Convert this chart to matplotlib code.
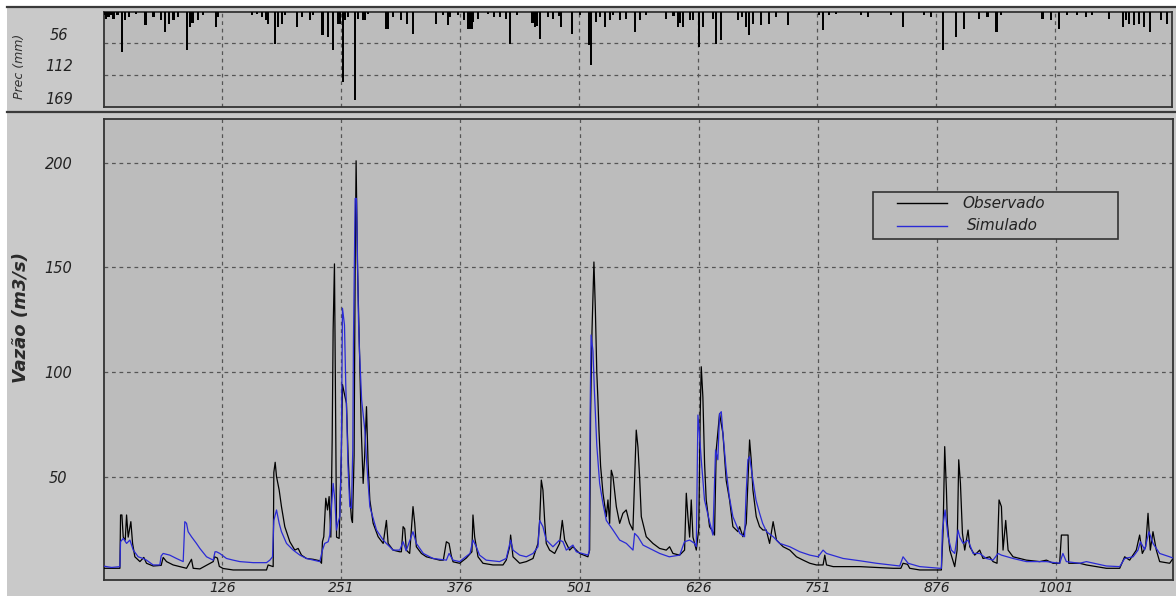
import matplotlib
matplotlib.use("Agg")
import matplotlib.pyplot as plt
from matplotlib.lines import Line2D
from matplotlib.patches import Rectangle
from matplotlib.transforms import blended_transform_factory, ScaledTranslation

# ---------------- data ----------------
# observed discharge (m3/s): day, value
obs_day = [1, 18.7, 19.4, 20.8, 22.2, 24.3, 25.7, 27.4, 30.2, 32, 34.4, 39.7, 43.8, 46.6, 53.6, 62,
           64.1, 67.6, 74.6, 88.6, 93.8, 95.6, 102.6, 116.6, 118, 121, 123, 127, 137.5, 172.5, 174.2,
           179.5, 180.2, 181.6, 183, 185.8, 188.2, 191.7, 197, 202.2, 205.7, 209.2, 214.4, 221.4,
           228.4, 230.2, 231.2, 232.6, 234.7, 236.5, 238.2, 240, 241.4, 242.4, 243.8, 244.9, 246,
           248.7, 251, 252.2, 254, 256.4, 258.1, 260, 261.6, 262.7, 264.4, 265.5, 266.5, 267.9, 270,
           271.4, 272.1, 273.9, 275.5, 277.4, 279.1, 280.9, 284.4, 289.6, 294.9, 298.3, 300.1, 305.3,
           312.3, 314, 315.8, 317.5, 319.2, 322.7, 326.2, 328, 329.7, 335, 340.2, 347.2, 354.2, 358,
           361.2, 364, 366.4, 368.2, 375.1, 382.1, 388, 389.1, 390.9, 394.4, 399.6, 410.1, 420.6, 424,
           427.6, 428.6, 431.1, 438.1, 445.1, 452.1, 457.3, 459.1, 460.8, 462.5, 464.3, 466, 469.5,
           474.8, 480, 482.8, 485.3, 490.5, 494, 501, 509.7, 511.5, 512.5, 514, 516, 517.5, 519,
           520.2, 521.3, 523, 525.5, 529, 530.7, 532.5, 534.2, 536, 539.5, 543, 546.4, 549.9, 553.4,
           556.9, 560.4, 562.2, 563.9, 565.7, 570.9, 574.4, 577.9, 584.9, 591.9, 595.4, 598.9, 605.9,
           611.1, 612.9, 614.6, 616.4, 618.1, 619.9, 621.6, 623.4, 626, 627.5, 628.6, 630.3, 632.1,
           633.8, 637.3, 640.8, 642.5, 644.3, 647.8, 651.3, 654.8, 658.3, 661.8, 667.1, 668.8, 672.3,
           675.8, 679.3, 681, 682.8, 686.3, 689.8, 693.3, 696.8, 700.3, 704, 707.5, 714.5, 721.5,
           728.5, 735.5, 742.5, 749.4, 756.4, 758.2, 760, 767, 794.9, 829.9, 838, 840.3, 845, 847.3,
           857.8, 880.5, 882.3, 884, 885.8, 886.8, 889.3, 894.5, 897, 898.7, 900.5, 902.6, 905, 908.5,
           910.3, 915.5, 920.7, 924.2, 931.2, 934.7, 938.9, 941, 943.5, 945.2, 948, 950.5, 955.7,
           969.7, 983.7, 990.7, 997.7, 1004.6, 1006.4, 1013.4, 1014.1, 1025.6, 1032.6, 1053.6, 1067.6,
           1072.8, 1078, 1085, 1088.5, 1091.3, 1094.8, 1097.3, 1099.7, 1102.5, 1106, 1109.5, 1120,
           1123.5]
obs_q = [6.1, 6.1, 31.6, 31.6, 21, 19.6, 31.6, 21, 28.4, 18, 11.6, 9.3, 11.3, 8.5, 7.2, 7.5,
         11.3, 9.3, 7.7, 6.1, 10.4, 6.1, 5.8, 9.3, 11.6, 11, 7, 6, 5.3, 5.3, 7.7,
         6.9, 52, 56.8, 50, 43.5, 35.6, 26, 18.8, 14.8, 15.6, 12.4, 10.8, 10.4,
         9.7, 8.5, 18.8, 21.2, 39.6, 34, 40.4, 21, 67.5, 120, 151.7, 85.8, 21,
         20.4, 60, 94, 90, 85, 60, 40, 30, 28, 60, 150, 201, 152, 112,
         85, 70, 46.7, 60, 83.4, 56, 38.8, 27.6, 21.2, 18, 29, 18, 14.8,
         14, 14, 26, 25, 14.8, 13.2, 35.6, 27.6, 16.4, 13.2, 11.6, 10.8, 10, 10,
         18.8, 18, 12, 9.2, 8.5, 11, 14, 31.6, 21, 11.6, 8.5, 7.7, 7.7, 10,
         16.4, 22, 11.6, 8.5, 9.3, 10.8, 18, 29, 48.3, 43.5, 29, 18, 14.8,
         13.2, 18, 29, 19.6, 14.8, 16.4, 13.2, 11.6, 14.8, 80, 120, 152.6, 130, 100,
         86.6, 72, 55, 42, 30.8, 38.8, 27.6, 53, 50, 35.6, 27.6, 32.4, 34, 27.6,
         24.4, 72.2, 64, 50, 30.8, 21.2, 19.6, 18, 15.6, 14.8, 16.4, 13.2, 12.4,
         14.8, 42, 30.8, 21, 38.8, 21, 18, 14.8, 25, 80, 102.5, 88, 56,
         38.8, 26, 23.6, 22, 62.7, 80, 70.7, 48, 38.8, 26, 23.6, 26, 21.2,
         27.6, 67.5, 58, 43.5, 30.8, 26, 24.4, 24.4, 18, 28.4, 19.6, 16.4, 14.8,
         11.6, 10, 8.5, 7.7, 7.7, 12.4, 7.7, 6.9, 6.9, 6.1, 6.1, 8.5, 8, 6.1,
         5.3, 5.3, 24, 64.3, 43.5, 27.6, 14.8, 6.9, 14.8, 58, 46.7, 22.8, 14.8, 24.4,
         16.4, 12.4, 14.8, 10.8, 11.6, 9.3, 8.5, 38.8, 35.6, 14.8, 29, 14.8, 11.6,
         10, 9.3, 10, 8.5, 8.5, 22, 22, 8.5, 8.5, 7.7, 6.1, 6.1,
         11.6, 10, 14.8, 22, 13.2, 16.4, 32.4, 14.8, 23.6, 14.8, 9.3, 8.5,
         10.8]

# simulated discharge (m3/s): day, value
sim_day = [1, 10, 18.7, 19.4, 22.2, 25.7, 29.2, 32.7, 37.9, 43, 46.6, 53.6, 60.6, 62, 64.1, 71,
           78, 85.1, 86, 86.8, 88.6, 90.3, 93.8, 99, 102.6, 109.6, 116.6, 118.5, 120, 123.5, 130.5,
           137.5, 144.5, 158.5, 172.5, 176, 178.8, 180.2, 183, 185.8, 188.2, 193.5, 200.5, 207.5,
           214.4, 228.4, 231.2, 233.6, 237.2, 238.9, 240.7, 242.4, 244.2, 245.9, 247.6, 249.4, 251,
           252.2, 254.3, 255.7, 256.7, 258, 259.9, 261.6, 263, 263.7, 265.5, 266.9, 268, 269, 270,
           272.3, 275.7, 277.4, 280.9, 287.9, 294.9, 298.2, 301.8, 305.2, 312.3, 315.8, 319, 326.2,
           329.7, 337, 347.2, 361.2, 364, 368.2, 375.1, 386, 389.1, 392.6, 396, 403, 417, 424,
           428.6, 431.1, 438.1, 445.1, 452.1, 457.3, 459.1, 462.5, 466, 473, 480, 483.5, 487, 494,
           497.5, 509.7, 511, 512, 513, 515, 516.5, 519, 522, 525.5, 529, 536, 543, 550, 557, 558.7,
           562.2, 567.5, 574.4, 585, 595, 606, 611, 616.4, 621.6, 623.4, 624.5, 625.1, 626.9, 628.6,
           632, 637, 640.8, 643.6, 646, 647.8, 649.6, 651.3, 654.8, 658, 661.8, 669, 674, 675.5,
           677.5, 679.3, 682.8, 686, 689.8, 693, 697.1, 704, 711, 721.5, 732, 742.5, 751.2, 756.4,
           760, 777.4, 794.9, 812.4, 836.8, 840.3, 845.6, 857.8, 878.8, 880.5, 881.6, 884.4, 887.5,
           891, 894.5, 898, 899.8, 903.3, 908.5, 913.8, 920.7, 927.7, 934.7, 940, 943.5, 955.7,
           969.7, 990.7, 1004.6, 1008, 1011.6, 1025.6, 1032.6, 1053.6, 1067.6, 1072.8, 1081.6,
           1086.8, 1089.3, 1093.8, 1098.3, 1102.5, 1109.5, 1120, 1123.5]
sim_q = [7.2, 6.5, 6.9, 18.8, 20.4, 18, 19.6, 14.8, 11.6, 10.8, 10, 7.7, 7.7, 12, 13.2, 12.4,
         10.8, 9.3, 20, 28.4, 27.6, 23.6, 21.2, 18, 15.6, 11.6, 10, 14, 14, 13.2, 10.8,
         10, 9.3, 8.8, 8.8, 10, 11.6, 29, 34, 27.6, 23.6, 18, 14.8, 12.4,
         10.8, 9.3, 14.8, 18, 18.8, 22, 35.6, 46.7, 38.8, 24.4, 28, 30.8, 60,
         130.5, 122.5, 93, 78.6, 55, 35.6, 34.8, 62.7, 113.7, 183, 183, 152, 125, 110.5,
         86.6, 72, 58, 35.6, 24.4, 19.6, 18, 16.4, 14.8, 14.8, 18.8, 14.5, 23.6,
         18, 13.2, 10.8, 10, 13.2, 10, 9.3, 13.2, 19.6, 16.4, 12.4, 10, 9.3, 10.8,
         19.6, 14.8, 12.4, 11.6, 13.2, 16.4, 29, 26, 19.6, 16.4, 19.6, 18.8, 14.8, 17.2,
         14, 12.4, 14, 80, 117.7, 110, 91, 65, 46.7, 37, 29, 24.4, 19.6, 18, 14.8, 22.8,
         21.2, 17.2, 15.6, 13.2, 11.6, 12.4, 18.8, 19.6, 18, 16.4, 60, 79.4, 69, 58,
         38.8, 29, 22, 62.7, 58, 80, 81, 70.7, 53, 40.4, 30.8, 22.8, 21.2, 40,
         58, 59.5, 48.3, 38.8, 32.4, 27.6, 23.6, 21.2, 18, 16.4, 14, 12.4, 11.6, 14.8,
         13.2, 10.8, 9.7, 8.5, 7.2, 11.6, 8.5, 6.9, 6.1, 6.1, 24.4, 34, 21.2,
         14.8, 13.2, 24.4, 21, 18, 19.6, 13.2, 13.2, 10.8, 10, 13.2, 12.4, 10.8,
         9.3, 9.3, 8.5, 13.2, 9.3, 8.5, 9.3, 7.2, 6.9, 10.8, 11.6,
         14.8, 18.8, 15, 23.6, 18, 13.2, 11.6, 11]

# daily rainfall (mm): day, value
prec_day = [2, 4.3, 6.8, 9.6, 12, 16.2, 20.8, 24.3, 28.1, 36, 45.6, 54, 61.7, 66.2, 70.4, 75,
            80.2, 89, 92.5, 95, 101.2, 106.4, 119.4, 122.2, 157.1, 162.4, 167.6, 172, 174.6,
            181.6, 184.4, 188.6, 192.1, 205, 209.6, 218.3, 221.8, 230.5, 232.3, 236.8, 242.8,
            248, 249.8, 253.3, 255.3, 258.5, 265.5, 269, 274, 276, 279.5, 298, 300.4, 305.7,
            313.7, 320.4, 326.7, 351.1, 358.1, 363.4, 365.1, 373.9, 379.8, 384.4, 386.5, 387.9,
            389.6, 394.8, 405.3, 411.3, 418.3, 424.6, 428, 435.7, 452, 454.3, 457, 459.5, 468.3,
            473.5, 480, 482.2, 493.8, 501.5, 511.3, 513.7, 519, 522.5, 527.7, 533, 536.5, 543.5,
            550.4, 559.2, 564.4, 571.4, 592.4, 600, 604.6, 607, 609.9, 616.9, 620.4, 626.7, 630.8,
            641.3, 644.8, 650.1, 667.5, 672, 676.3, 679.1, 683.3, 692, 700.1, 707.8, 720, 753.2,
            756.7, 763.7, 770.7, 796.9, 803.9, 828.4, 841.3, 863.3, 870.3, 882.6, 896.6, 905.3,
            920.4, 929.8, 939.2, 943.8, 987.5, 996.2, 1005, 1013.7, 1024.2, 1032.9, 1039.9,
            1057.4, 1072.1, 1075, 1078.4, 1083.6, 1088.9, 1094.1, 1100.1, 1111.6, 1118.6]
prec_mm = [6, 12.9, 10, 7, 12.9, 7, 71.6, 15.8, 10, 5, 24.6, 10, 15.8, 36.4, 21.7, 15.8,
           10, 68.7, 27.6, 20, 15.8, 7, 27.6, 10, 7, 4.1, 10, 15, 21.7,
           57, 27.6, 21.7, 7, 27.6, 10, 15.8, 7, 42.3, 42.3, 45.2, 68.7,
           21.7, 21.7, 124.4, 15.8, 10, 156.7, 12.9, 15.8, 15.8, 4.1, 30.5, 30.5, 10,
           15.8, 21.7, 39.3, 21.7, 7, 24.6, 10, 7, 15.8, 30.5, 30.5, 30.5,
           18.8, 12.9, 4.1, 10, 10, 12.9, 57, 7, 20, 27.6, 25, 48.1, 10,
           12.9, 8, 27.6, 39.3, 7, 59.9, 95, 18.8, 10, 27.6, 15.8, 7, 15.8,
           12.9, 36.4, 15.8, 7, 12.9, 8, 27.6, 20, 27.6, 15.8, 15.8, 62.8, 27.6,
           12.9, 57, 51, 15.8, 10, 27.6, 42.3, 21.7, 24.6, 21.7, 10, 24.6, 7,
           33.4, 7, 4.1, 7, 10, 7, 27.6, 7, 10, 68.7, 45.2, 30.5,
           12.9, 10, 36.4, 7, 12.9, 15.8, 30.5, 7, 7, 10, 7,
           12.9, 27.6, 15, 21.7, 24.6, 21.7, 27.6, 36.4, 15.8, 21.7]

x_ticks = [126, 251, 376, 501, 626, 751, 876, 1001]
q_ticks = [50, 100, 150, 200]
prec_ticks = [56, 112, 169]

# ---------------- figure ----------------
W, H, DPI = 1176, 596, 100
fig = plt.figure(figsize=(W / DPI, H / DPI), dpi=DPI, facecolor="#c9c9c9")

def fx(px):
    return px / W

def fy(py):
    return 1 - py / H

panel_bg = "#bcbcbc"
grid_kw = dict(color="#555555", linestyle=(0, (3, 3)), linewidth=0.9)
tick_font = dict(family="DejaVu Sans", style="italic", size=10.5, color="#222222")

# white page margins and panel frame lines
fig.add_artist(Rectangle((0, fy(6)), 1, 1 - fy(6), transform=fig.transFigure,
                         facecolor="white", edgecolor="none", zorder=0))
fig.add_artist(Rectangle((0, 0), fx(7), 1, transform=fig.transFigure,
                         facecolor="white", edgecolor="none", zorder=0))
fig.add_artist(Line2D([fx(7), 1], [fy(6.8), fy(6.8)], transform=fig.transFigure,
                      color="#3a3a3a", linewidth=1.6))
fig.add_artist(Line2D([fx(7), 1], [fy(112), fy(112)], transform=fig.transFigure,
                      color="#3a3a3a", linewidth=1.6))

# ---------------- rainfall panel ----------------
ax_p = fig.add_axes([fx(103.5), fy(107.3), fx(1172 - 103.5), (107.3 - 11.5) / H])
ax_p.set_facecolor(panel_bg)
ax_p.bar(prec_day, prec_mm, width=2.2, color="black", linewidth=0, zorder=3)
ax_p.set_xlim(1.5, 1123.5)
ax_p.set_ylim(169, 0)
ax_p.set_xticks(x_ticks)
ax_p.set_yticks(prec_ticks[:2])
ax_p.grid(True, **grid_kw)
ax_p.set_axisbelow(True)
ax_p.tick_params(length=0, labelbottom=False, labelleft=False)
for s in ax_p.spines.values():
    s.set_color("#333333")
    s.set_linewidth(1.3)
lab_tr = blended_transform_factory(fig.transFigure, ax_p.transData) + \
    ScaledTranslation(0, 8 / DPI, fig.dpi_scale_trans)
for v in prec_ticks:
    ax_p.text(fx(59), v, str(v), transform=lab_tr, ha="center", va="center", **tick_font)
fig.text(fx(20), fy(66), "Prec (mm)", rotation=90, ha="center", va="center",
         family="DejaVu Sans", style="italic", size=9, color="#333333")

# ---------------- discharge panel ----------------
ax = fig.add_axes([fx(103.5), fy(580), fx(1173 - 103.5), (580 - 119) / H])
ax.set_facecolor(panel_bg)
ax.plot(obs_day, obs_q, color="black", linewidth=0.9, zorder=3)
ax.plot(sim_day, sim_q, color="#2a2ad6", linewidth=0.9, zorder=4)
ax.set_xlim(1.5, 1123.5)
ax.set_ylim(0.5, 221)
ax.set_xticks(x_ticks)
ax.set_yticks(q_ticks)
ax.grid(True, **grid_kw)
ax.set_axisbelow(True)
ax.tick_params(length=0)
ax.tick_params(axis="x", pad=1)
ax.tick_params(axis="y", pad=32.5)
for lab in ax.get_xticklabels() + ax.get_yticklabels():
    lab.set_fontfamily("DejaVu Sans")
    lab.set_fontstyle("italic")
    lab.set_fontsize(10.5)
    lab.set_color("#222222")
for lab in ax.get_xticklabels():
    lab.set_fontsize(10)
for lab in ax.get_yticklabels():
    lab.set_horizontalalignment("center")
for s in ax.spines.values():
    s.set_color("#333333")
    s.set_linewidth(1.3)
fig.text(fx(21), fy(318), "Vazão (m3/s)", rotation=90, ha="center", va="center",
         family="DejaVu Sans", style="italic", weight="bold", size=13, color="#2a2a2a")

# legend box
leg_tr = fig.transFigure
fig.add_artist(Rectangle((fx(873), fy(239)), fx(1118 - 873), (239 - 192) / H,
                         transform=leg_tr, facecolor=panel_bg, edgecolor="#333333",
                         linewidth=1.2, zorder=5))
fig.add_artist(Line2D([fx(897), fx(947)], [fy(203), fy(203)], transform=leg_tr,
                      color="black", linewidth=1.0, zorder=6))
fig.add_artist(Line2D([fx(897), fx(947)], [fy(226), fy(226)], transform=leg_tr,
                      color="#2a2ad6", linewidth=1.0, zorder=6))
fig.text(fx(1004), fy(203), "Observado", ha="center", va="center", zorder=7,
         family="DejaVu Sans", style="italic", size=11, color="#222222")
fig.text(fx(1002), fy(226), "Simulado", ha="center", va="center", zorder=7,
         family="DejaVu Sans", style="italic", size=11, color="#222222")

fig.savefig("out.png", dpi=DPI, facecolor=fig.get_facecolor())
